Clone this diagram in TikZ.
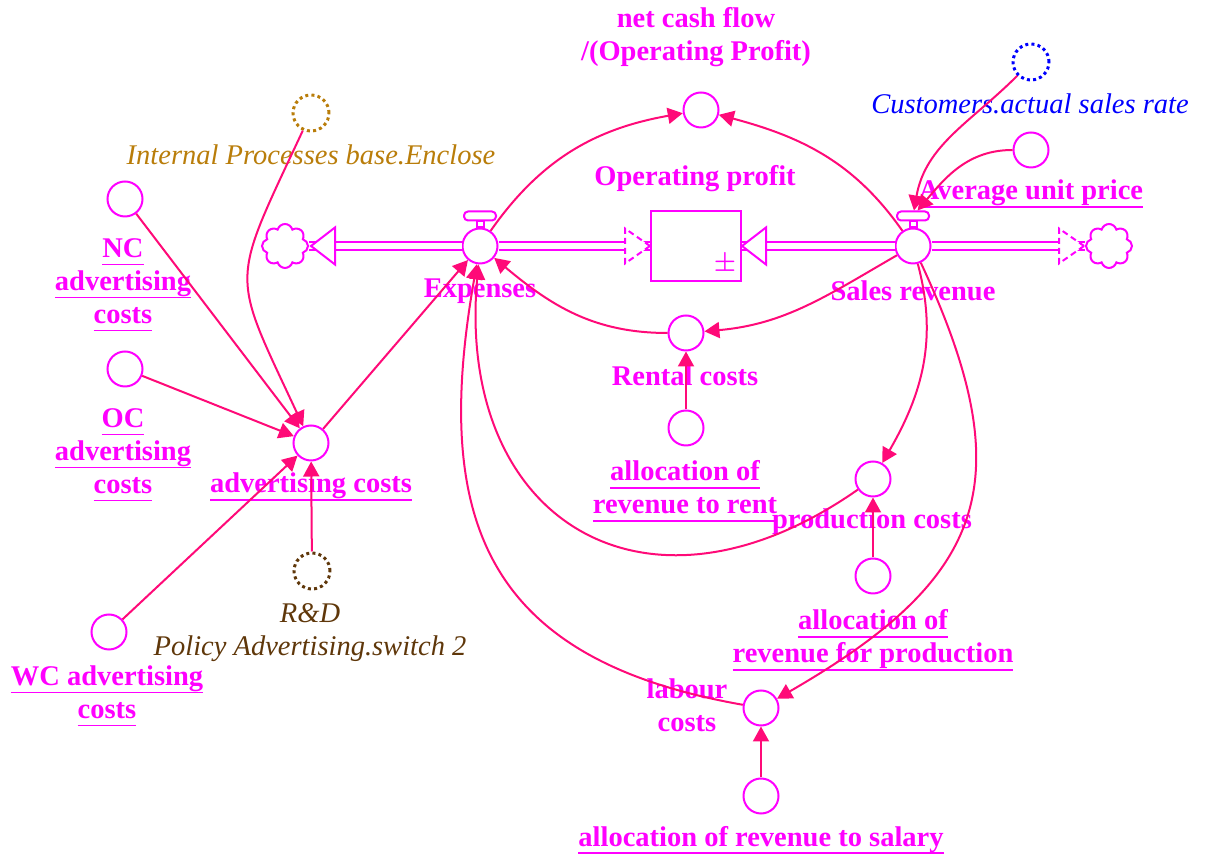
\documentclass[tikz,border=0pt]{standalone}
\usepackage{fontspec}
\setmainfont{Liberation Serif}
\usetikzlibrary{arrows.meta,shapes.symbols}

\definecolor{sdmagenta}{RGB}{255,0,255}
\definecolor{sdlink}{RGB}{255,10,120}
\definecolor{sdgold}{RGB}{185,125,10}
\definecolor{sdbrown}{RGB}{95,55,10}
\definecolor{sdblue}{RGB}{0,0,255}

% underline kept at one depth below the baseline
\newcommand{\sdline}[1]{\setbox0=\hbox{#1}\rlap{\rule[-8pt]{\wd0}{1.6pt}}\box0}

\begin{document}
\begin{tikzpicture}[
  x=1pt, y=1pt,
  aux/.style={
    circle,
    draw=sdmagenta,
    line width=2pt,
    minimum size=35pt,
    inner sep=0pt
  },
  ghost/.style={
    circle,
    line width=3pt,
    dash pattern=on 3pt off 3.2pt,
    minimum size=36pt,
    inner sep=0pt
  },
  var name/.style={
    text=sdmagenta,
    font=\fontsize{28.5}{33}\selectfont\bfseries,
    align=center,
    inner sep=0pt
  },
  ghost name/.style={
    font=\fontsize{28.5}{33}\selectfont\itshape,
    align=center,
    inner sep=0pt
  },
  link/.style={
    draw=sdlink,
    line width=2pt,
    -{Triangle[length=15pt,width=16pt]}
  },
  pipe/.style={
    draw=sdmagenta,
    line width=2.2pt,
    double=white,
    double distance=5.5pt
  },
  pipe head/.style={
    draw=sdmagenta,
    line width=2pt,
    fill=white
  },
  pipe head dashed/.style={
    pipe head,
    dash pattern=on 6pt off 4pt
  },
  sink/.style={
    cloud, cloud puffs=8, cloud ignores aspect,
    draw=sdmagenta, line width=2pt,
    minimum width=46pt, minimum height=44pt,
    inner sep=0pt
  },
  valve handle/.style={
    rectangle, rounded corners=4pt,
    draw=sdmagenta, line width=2pt,
    minimum width=32pt, minimum height=9pt,
    inner sep=0pt
  },
  stock/.style={
    rectangle,
    draw=sdmagenta,
    line width=2pt,
    minimum width=90pt, minimum height=70pt
  },
]
\useasboundingbox (0,0) rectangle (1205,859);

% stock, valves and clouds
\node[sink] (leftsink) at (285,613) {};
\node[sink] (rightsink) at (1109,613) {};
\node[stock] (profit) at (696,613) {};
\node[text=sdmagenta, font=\fontsize{28}{28}\selectfont\boldmath] at (725,595) {$\pm$};
\node[aux] (expenses) at (480,613) {};
\node[valve handle] (exphandle) at (480,643) {};
\node[aux] (sales) at (913,613) {};
\node[valve handle] (salhandle) at (913,643) {};

% pipes
\draw[pipe] (expenses.west) -- (leftsink.east);
\draw[pipe head] ([xshift=2pt]leftsink.east) -- ++(24,18.5) -- ++(0,-37) -- cycle;
\draw[pipe] (expenses.east) -- (profit.west);
\draw[pipe head dashed] (profit.west) -- ++(-25,17.5) -- ++(0,-35) -- cycle;
\draw[pipe] (sales.west) -- (profit.east);
\draw[pipe head] (profit.east) -- ++(24,18.5) -- ++(0,-37) -- cycle;
\draw[pipe] (sales.east) -- (rightsink.west);
\draw[pipe head dashed] ([xshift=-1pt]rightsink.west) -- ++(-25,17.5) -- ++(0,-35) -- cycle;
\draw[pipe head] ([xshift=-3.5pt]exphandle.south) rectangle ([xshift=3.5pt]expenses.north);
\draw[pipe head] ([xshift=-3.5pt]salhandle.south) rectangle ([xshift=3.5pt]sales.north);

\node[var name] at (480,568) {Expenses};
\node[var name] at (913,568) {Sales revenue};
\node[var name] at (695,680) {Operating profit};

% auxiliaries
\node[aux] (cash) at (701,749) {};
\node[var name] at (696,822) {net cash flow\\/(Operating Profit)};
\node[ghost, draw=sdblue] (customers) at (1031,797) {};
\node[ghost name, text=sdblue] at (1030,755) {Customers.actual sales rate};
\node[aux] (price) at (1031,709) {};
\node[var name] at (1031,665) {\sdline{Average unit price}};
\node[ghost, draw=sdgold] (internal) at (311,746) {};
\node[ghost name, text=sdgold] at (311,704) {Internal Processes base.Enclose};
\node[aux] (nc) at (125,660) {};
\node[var name] at (123,574) {\sdline{NC}\\\sdline{advertising}\\\sdline{costs}};
\node[aux] (oc) at (125,490) {};
\node[var name] at (123,404) {\sdline{OC}\\\sdline{advertising}\\\sdline{costs}};
\node[aux] (adv) at (311,416) {};
\node[var name] at (311,372) {\sdline{advertising costs}};
\node[ghost, draw=sdbrown] (rnd) at (312,288) {};
\node[ghost name, text=sdbrown] at (310,226) {R\&D\\Policy Advertising.switch 2};
\node[aux] (wc) at (109,227) {};
\node[var name] at (107,163) {\sdline{WC advertising}\\\sdline{costs}};
\node[aux] (rental) at (686,526) {};
\node[var name] at (685,483) {Rental costs};
\node[aux] (rentshare) at (686,431) {};
\node[var name] at (685,368) {\sdline{allocation of}\\\sdline{revenue to rent}};
\node[aux] (production) at (873,380) {};
\node[var name] at (872,337) {production costs};
\node[aux] (prodshare) at (873,283) {};
\node[var name] at (873,219) {\sdline{allocation of}\\\sdline{revenue for production}};
\node[aux] (labour) at (761,151) {};
\node[var name] at (687,154) {labour\\costs};
\node[aux] (salaryshare) at (761,63) {};
\node[var name] at (761,19) {\sdline{allocation of revenue to salary}};

% links
\draw[link] (expenses) to[out=55, in=190] (cash);
\draw[link] (sales) to[out=125, in=-15] (cash);
\draw[link] (sales) to[out=210, in=5] (rental);
\draw[link] (rental) to[out=180, in=-40] (expenses);
\draw[link] (rentshare) -- (rental);
\draw[link] (sales) to[out=-75, in=60] (production);
\draw[link] (production) to[out=215, in=-95, looseness=1.5] (expenses);
\draw[link] (sales) to[out=-65, in=30, looseness=1.35] (labour);
\draw[link] (labour) to[out=170, in=-100, looseness=1.3] (expenses);
\draw[link] (salaryshare) -- (labour);
\draw[link] (prodshare) -- (production);
\draw[link] (customers) to[out=225, in=80] (salhandle);
\draw[link] (price) to[out=180, in=50] (salhandle);
\draw[link] (adv) -- (expenses);
\draw[link] (nc) -- (adv);
\draw[link] (oc) -- (adv);
\draw[link] (wc) -- (adv);
\draw[link] (rnd) -- (adv);
\draw[link] (internal) to[out=245, in=115, looseness=1.5] (adv);
\end{tikzpicture}
\end{document}
